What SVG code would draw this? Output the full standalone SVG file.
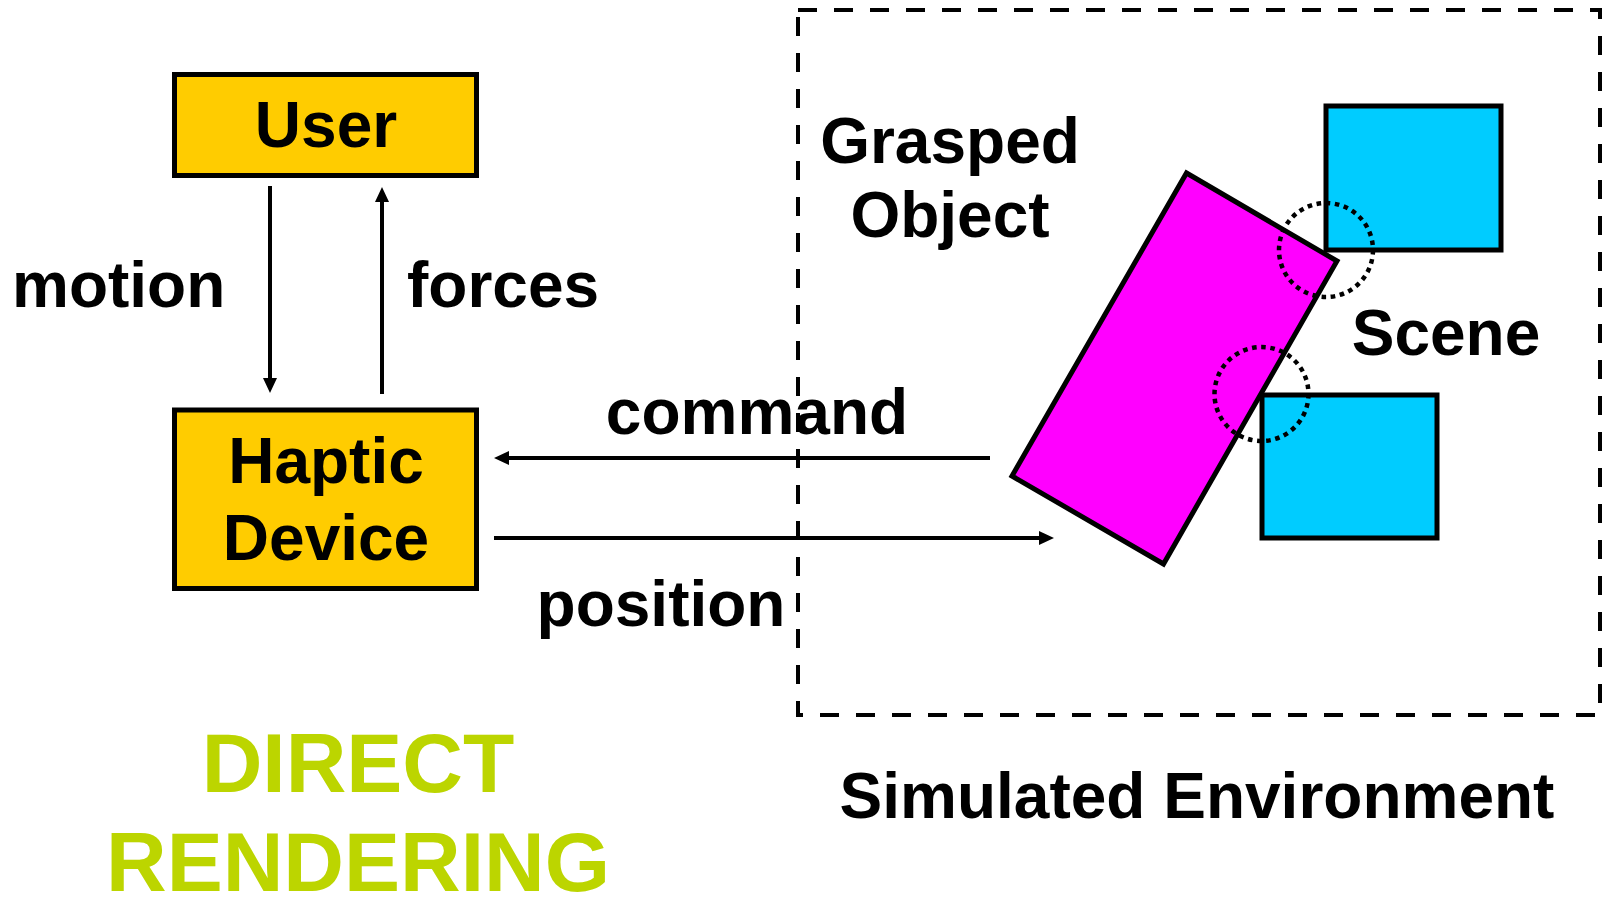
<svg xmlns="http://www.w3.org/2000/svg" width="1604" height="898" viewBox="0 0 1604 898">
  <style>
    .lbl { font-family: "Liberation Sans", Arial, sans-serif; font-weight: bold; font-size: 64px; fill: #000; }
    .mid { text-anchor: middle; }
    .box { fill: #FFCC00; stroke: #000; stroke-width: 5; }
    .scene { fill: #00CCFF; stroke: #000; stroke-width: 5; }
    .obj { fill: #FF00FF; stroke: #000; stroke-width: 5; stroke-linejoin: miter; }
    .contact { fill: none; stroke: #000; stroke-width: 4.5; stroke-dasharray: 4.6 4.6; }
    .env { fill: none; stroke: #000; stroke-width: 4; stroke-dasharray: 19 17; }
    .wire { fill: none; stroke: #000; stroke-width: 4; marker-end: url(#head); }
    .title { font-family: "Liberation Sans", Arial, sans-serif; font-weight: bold; font-size: 84px; fill: #BCD500; text-anchor: middle; }
  </style>
  <defs>
    <marker id="head" viewBox="0 0 15 14" refX="5" refY="7" markerWidth="15" markerHeight="14" markerUnits="userSpaceOnUse" orient="auto">
      <path d="M0,0 L15,7 L0,14 z" fill="#000"/>
    </marker>
  </defs>

  <!-- simulated environment frame -->
  <g id="environment">
    <rect class="env" x="798" y="10" width="802" height="705"/>
    <text class="lbl mid" x="1197" y="818">Simulated Environment</text>
  </g>

  <!-- user -->
  <g id="user">
    <rect class="box" x="174.5" y="74.5" width="302" height="101"/>
    <text class="lbl mid" x="326" y="147">User</text>
  </g>

  <!-- haptic device -->
  <g id="haptic-device">
    <rect class="box" x="174.5" y="410" width="302" height="178.5"/>
    <text class="lbl mid" x="326" y="483">Haptic</text>
    <text class="lbl mid" x="326" y="560">Device</text>
  </g>

  <!-- scene obstacles -->
  <g id="scene">
    <rect class="scene" x="1326" y="106" width="175" height="144"/>
    <rect class="scene" x="1262" y="395" width="175" height="143"/>
    <text class="lbl mid" x="1446" y="355">Scene</text>
  </g>

  <!-- grasped object -->
  <g id="grasped-object">
    <polygon class="obj" points="1186.5,173 1337,261 1163.5,564 1012,476"/>
    <text class="lbl mid" x="950" y="163">Grasped</text>
    <text class="lbl mid" x="950" y="237">Object</text>
  </g>

  <!-- contact regions -->
  <g id="contacts">
    <circle class="contact" cx="1326" cy="250" r="47"/>
    <circle class="contact" cx="1261.5" cy="394" r="47"/>
  </g>

  <!-- connectors -->
  <g id="connectors">
    <line class="wire" x1="270" y1="186" x2="270" y2="383"/>
    <line class="wire" x1="382" y1="394" x2="382" y2="197"/>
    <line class="wire" x1="990" y1="458" x2="504" y2="458"/>
    <line class="wire" x1="494" y1="538" x2="1044" y2="538"/>
    <text class="lbl" x="12" y="307">motion</text>
    <text class="lbl" x="407" y="307">forces</text>
    <text class="lbl mid" x="757" y="434">command</text>
    <text class="lbl mid" x="661" y="626">position</text>
  </g>

  <!-- caption -->
  <g id="caption">
    <text class="title" x="358" y="792">DIRECT</text>
    <text class="title" x="358" y="891">RENDERING</text>
  </g>
</svg>
